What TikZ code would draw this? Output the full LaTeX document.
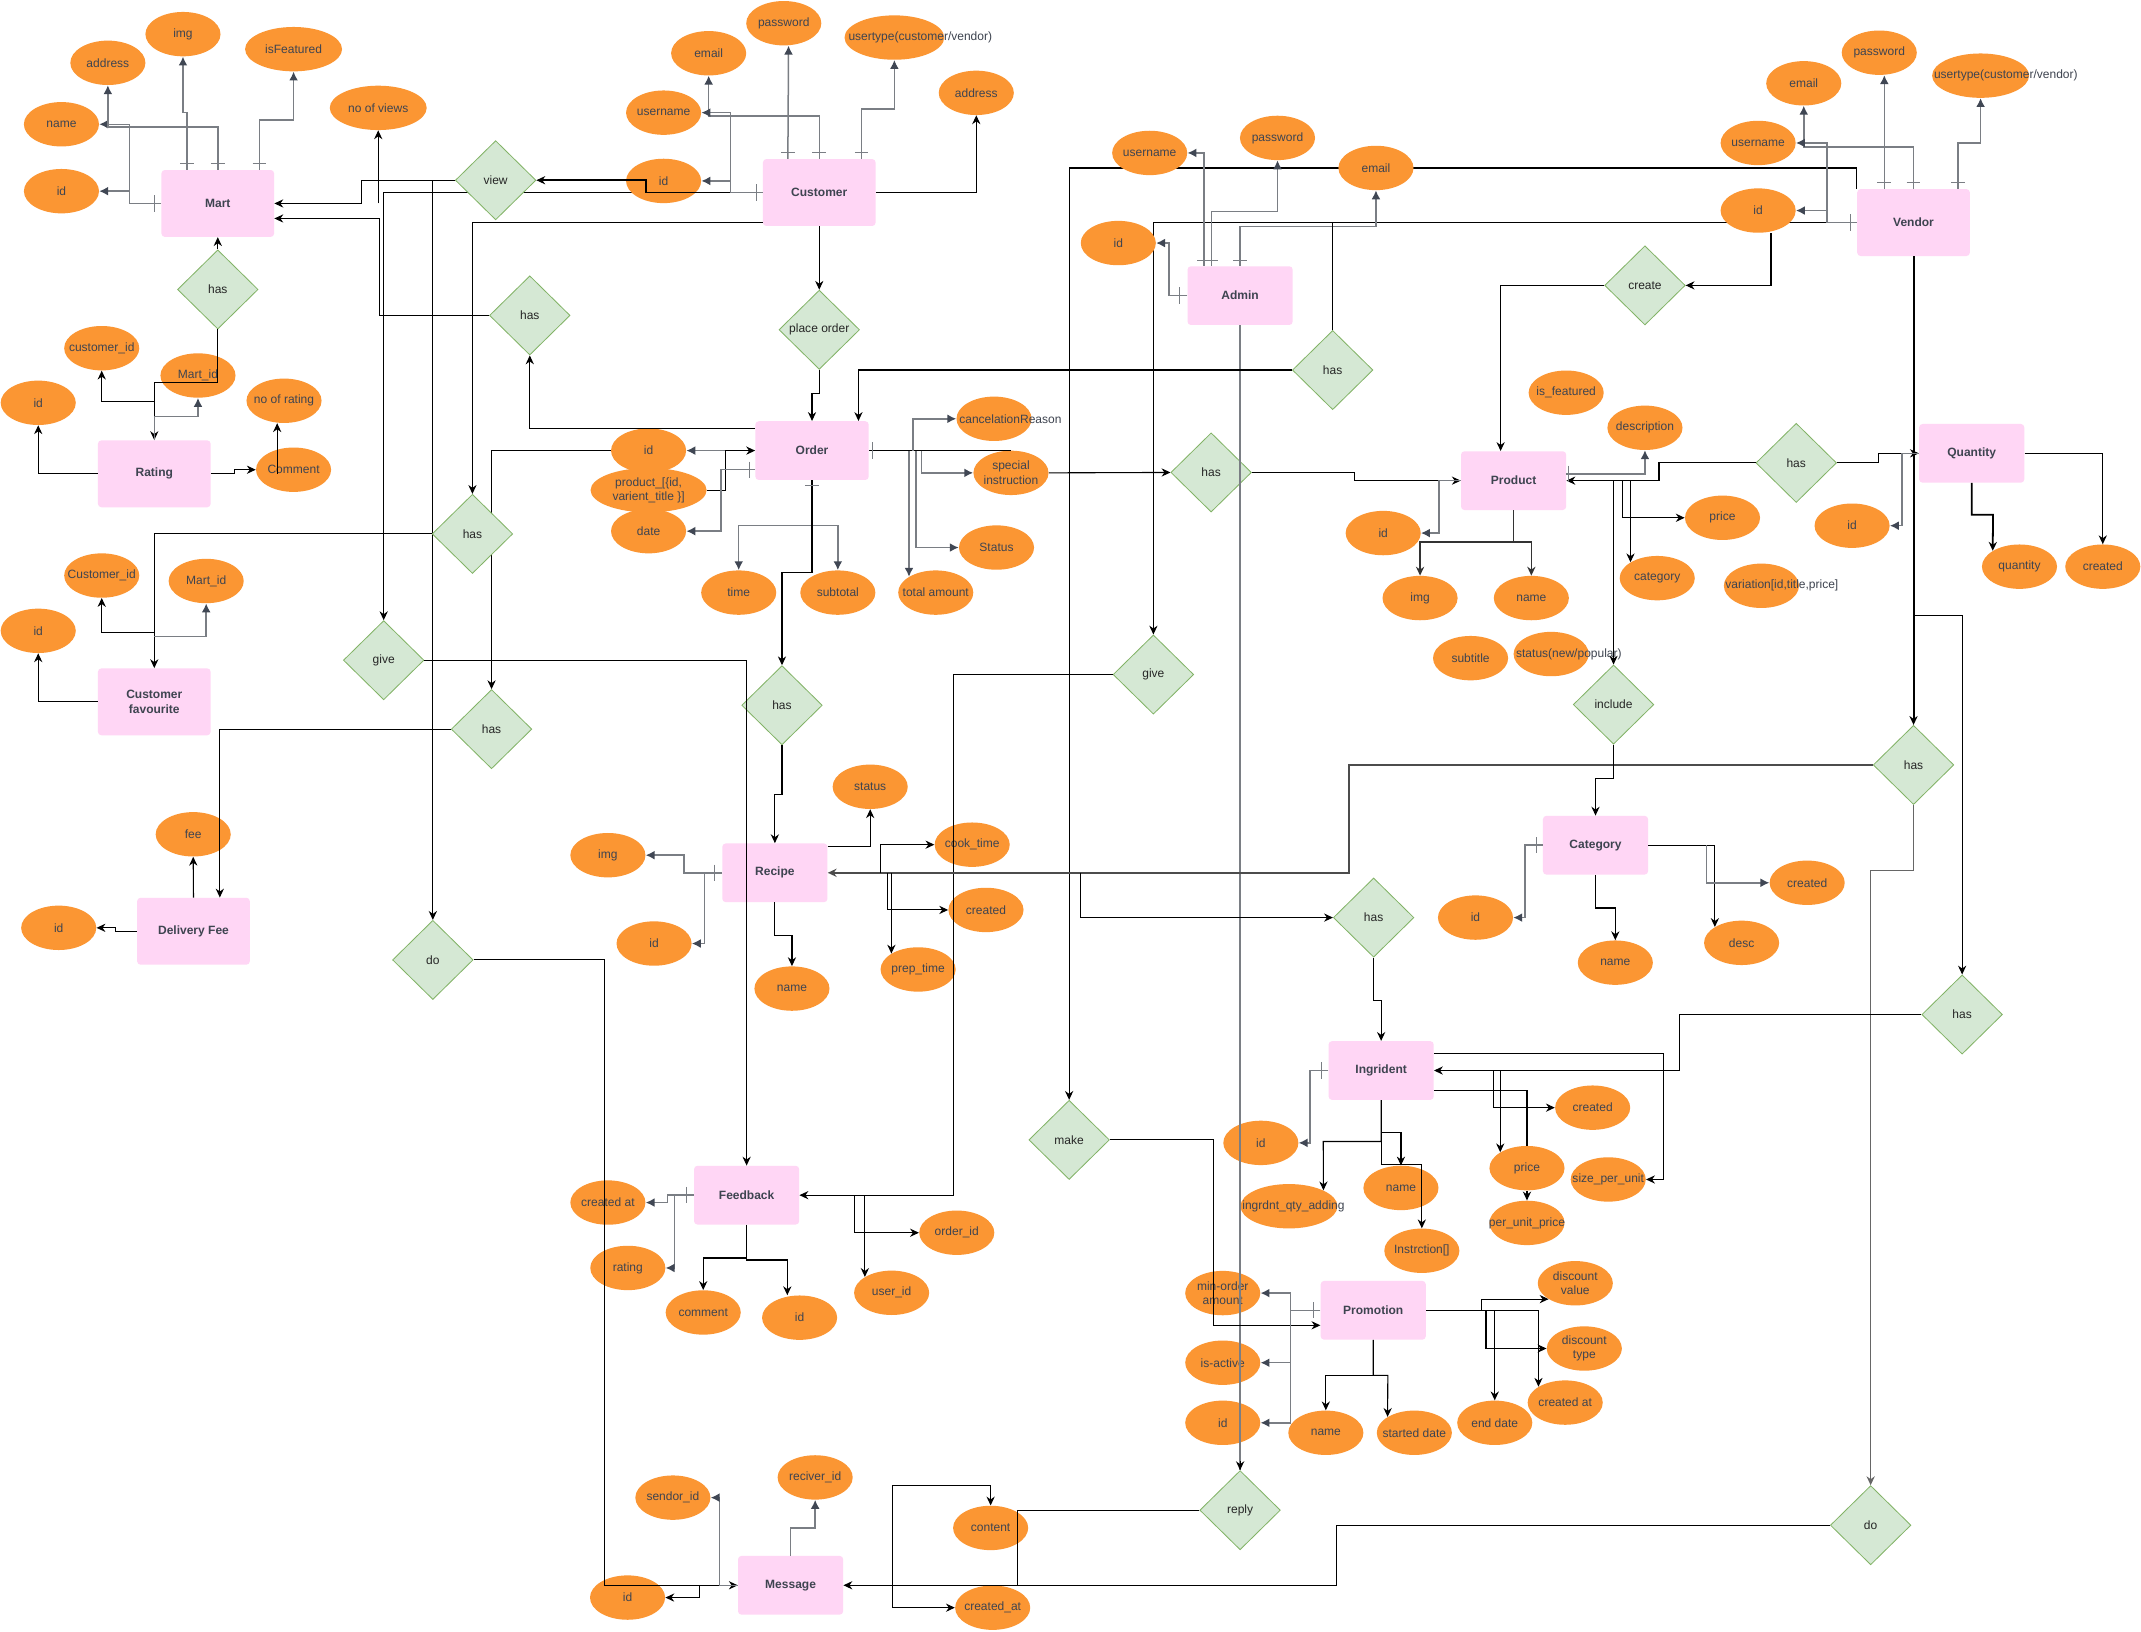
\documentclass[tikz,border=0pt]{standalone}
\usepackage{fontspec}
\setmainfont{Liberation Sans}
\usetikzlibrary{shapes.geometric, arrows.meta}

\definecolor{entpink}{RGB}{255,214,245}
\definecolor{attorange}{RGB}{251,150,51}
\definecolor{atttext}{RGB}{62,68,80}
\definecolor{relfill}{RGB}{213,232,212}
\definecolor{reldraw}{RGB}{130,179,102}
\definecolor{lngray}{RGB}{122,126,132}
\definecolor{tipslate}{RGB}{64,71,84}

\pgfdeclarelayer{background}
\pgfsetlayers{background,main}

\begin{document}
\begin{tikzpicture}[x=1pt, y=-1pt,
  entity/.style={rectangle, rounded corners=2.5pt, fill=entpink, minimum width=82.5pt, minimum height=49pt, inner sep=2pt, text=atttext, font=\fontsize{8.8}{10.5}\selectfont\bfseries, align=center},
  entsmall/.style={entity, minimum width=77pt, minimum height=43pt},
  attrib/.style={ellipse, fill=attorange, minimum width=55pt, minimum height=32.5pt, inner xsep=-14pt, inner ysep=-3pt, text=atttext, font=\fontsize{8.8}{10.5}\selectfont, align=center},
  overtext/.style={inner sep=0pt, text=atttext, font=\fontsize{8.8}{10.5}\selectfont},
  relation/.style={diamond, draw=reldraw, fill=relfill, line width=0.6pt, minimum width=59pt, minimum height=58pt, inner sep=0pt, text=black!85, font=\fontsize{8.8}{10.5}\selectfont},
  rl/.style={draw=black, line width=0.8pt, -{Stealth[length=6.5pt, width=6pt]}},
  rlp/.style={draw=black, line width=0.8pt},
  al/.style={draw=lngray, line width=1.1pt, -{Latex[length=6.5pt, width=6.5pt, color=tipslate]}},
  alp/.style={draw=lngray, line width=1.1pt},
  tk/.style={draw=lngray, line width=0.8pt}]

        \useasboundingbox (0,0) rectangle (1568,1194.5);
        \begin{pgfonlayer}{background}
            \fill[white] (0,0) rectangle (1568,1194.5);
        \end{pgfonlayer}

        % Mart
        \node[attrib] (maddr) at (79,46) {address};
        \node[attrib] (mimg) at (134,25) {img};
        \node[attrib, minimum width=71pt] (mfeat) at (215,36) {isFeatured};
        \node[attrib] (mname) at (45,91) {name};
        \node[attrib] (mid) at (45,140) {id};
        \node[attrib, minimum width=71pt] (mviews) at (277,79) {no of views};
        \node[entity] (mart) at (159.5,149) {Mart};
        \node[relation] (hasmr) at (159.5,212) {has};
        \node[attrib] (rcid) at (74.5,255) {customer\_id};
        \node[attrib] (rmid) at (145,275) {Mart\_id};
        \node[attrib] (rid) at (28,295) {id};
        \node[attrib] (rnor) at (208,293.5) {no of rating};
        \node[entity] (rating) at (113,347) {Rating};
        \node[attrib] (rcom) at (215,344) {Comment};
        \node[relation] (view) at (363,132) {view};
        \node[relation] (hasco) at (388,231) {has};
        \node[relation] (hascf) at (346,391) {has};
        \node[attrib] (fcid) at (74.5,421.5) {Customer\_id};
        \node[attrib] (fmid) at (151,425.5) {Mart\_id};
        \node[attrib] (fid) at (28,462) {id};
        \node[entity] (custfav) at (113,514) {Customer\\favourite};
        \node[relation] (give) at (281,483.5) {give};
        \node[relation] (hasdf) at (360,534) {has};
        \node[attrib] (dfee) at (141.5,611) {fee};
        \node[attrib] (dfid) at (43,679.5) {id};
        \node[entity] (delfee) at (141.7,682) {Delivery Fee};
        \node[relation] (do) at (317,703) {do};

        % Customer
        \node[attrib] (cpass) at (574,17) {password};
        \node[attrib] (cemail) at (519,39) {email};
        \node[attrib, minimum width=73pt] (ctype) at (655,27.5) {};
        \node[overtext] (ctypet) at (674,27.5) {usertype(customer/vendor)};
        \node[attrib] (caddr) at (715,68) {address};
        \node[attrib] (cuser) at (486,82.5) {username};
        \node[attrib] (cid) at (486,132.5) {id};
        \node[entity] (cust) at (600,141) {Customer};
        \node[relation] (porder) at (600,241.5) {place order};

        % Order
        \node[entsmall, minimum width=83pt] (order) at (594.7,330) {Order};
        \node[attrib] (oid) at (475,330) {id};
        \node[attrib, minimum width=85pt] (oprod) at (475,359) {product\_[\{id,\\varient\_title \}]};
        \node[attrib] (odate) at (475,389) {date};
        \node[attrib] (otime) at (541,434) {time};
        \node[attrib] (osub) at (613.6,434) {subtotal};
        \node[attrib] (ototal) at (685.3,434) {total amount};
        \node[attrib] (ostat) at (729.8,401) {Status};
        \node[attrib] (ocancel) at (728,306.7) {};
        \node[overtext] (ocancelt) at (740,306.7) {cancelationReason};
        \node[attrib] (ospec) at (740.4,346.3) {special\\instruction};

        % Admin
        \node[attrib] (auser) at (842,112) {username};
        \node[attrib] (apass) at (935.6,101) {password};
        \node[attrib] (aemail) at (1007.7,123) {email};
        \node[attrib] (aid) at (819,178) {id};
        \node[entsmall] (admin) at (908.2,216.5) {Admin};
        \node[relation] (hasao) at (976,271) {has};
        \node[relation] (hasop) at (887,346) {has};

        % Vendor
        \node[attrib] (vemail) at (1321,61) {email};
        \node[attrib] (vpass) at (1376.3,38.6) {password};
        \node[attrib, minimum width=71pt] (vtype) at (1450.5,55.4) {};
        \node[overtext] (vtypet) at (1469,55.4) {usertype(customer/vendor)};
        \node[attrib] (vuser) at (1287.6,104.7) {username};
        \node[attrib] (vid) at (1287.6,154.2) {id};
        \node[entity] (vendor) at (1401.4,163) {Vendor};
        \node[relation] (create) at (1204.7,209) {create};

        % Product, Quantity
        \node[attrib] (pfeat) at (1147,287.6) {is\_featured};
        \node[attrib] (pdesc) at (1204.7,313.3) {description};
        \node[entsmall] (prod) at (1108.5,352) {Product};
        \node[attrib] (pprice) at (1261.5,379.2) {price};
        \node[attrib] (pid) at (1013,390.4) {id};
        \node[attrib] (pimg) at (1040,438) {img};
        \node[attrib] (pname) at (1121.5,438) {name};
        \node[attrib] (pcat) at (1213.7,423.4) {category};
        \node[attrib] (pvar) at (1290,429) {};
        \node[overtext] (pvart) at (1305,429) {variation[id,title,price]};
        \node[attrib] (psub) at (1077,482) {subtitle};
        \node[attrib] (pstat) at (1136,479) {};
        \node[overtext] (pstatt) at (1149,479) {status(new/popular)};
        \node[relation] (incl) at (1181.7,516) {include};
        \node[relation] (haspq) at (1315.5,339) {has};
        \node[entsmall] (qty) at (1444,332) {Quantity};
        \node[attrib] (qid) at (1356.4,385) {id};
        \node[attrib] (qqty) at (1479,415) {quantity};
        \node[attrib] (qcre) at (1540,415) {created};

        % Category
        \node[entsmall] (cat) at (1168.5,619) {Category};
        \node[attrib] (catid) at (1080.6,672) {id};
        \node[attrib] (catname) at (1183,705) {name};
        \node[attrib] (catdesc) at (1275.5,690.5) {desc};
        \node[attrib] (catcre) at (1323.5,646.5) {created};
        \node[relation] (hasvc) at (1401.4,560.2) {has};
        \node[relation] (hasvi) at (1437,743) {has};

        % Recipe
        \node[relation] (hasor) at (572.7,516.5) {has};
        \node[entsmall] (recipe) at (567.5,639.2) {Recipe};
        \node[attrib] (rstat) at (637.3,576.2) {status};
        \node[attrib] (rimg) at (445.2,626.3) {img};
        \node[attrib] (rcook) at (712,618.6) {cook\_time};
        \node[attrib] (rcre) at (722.1,666.4) {created};
        \node[attrib] (rprep) at (672.4,710) {prep\_time};
        \node[attrib] (rrid) at (479,691) {id};
        \node[attrib] (rname) at (580,724) {name};
        \node[relation] (hasri) at (1006,672) {has};
        \node[relation] (give2) at (844.7,494) {give};

        % Ingrident
        \node[entsmall] (ingr) at (1011.5,784) {Ingrident};
        \node[attrib] (iid) at (923.4,837) {id};
        \node[attrib, minimum width=71pt] (iqty) at (944,883.4) {};
        \node[overtext] (iqtyt) at (947.3,883.4) {ingrdnt\_qty\_adding};
        \node[attrib] (iname) at (1026,870) {name};
        \node[attrib] (iinst) at (1041.3,916) {Instrction[]};
        \node[attrib] (icre) at (1166.4,811.2) {created};
        \node[attrib] (iprice) at (1118.3,855.5) {price};
        \node[attrib] (iper) at (1118.3,895.6) {per\_unit\_price};
        \node[attrib] (isize) at (1177.8,863.8) {size\_per\_unit};

        % Promotion
        \node[entsmall] (promo) at (1005.7,959.6) {Promotion};
        \node[attrib] (pmin) at (895.5,947) {min-order\\amount};
        \node[attrib] (pact) at (895.5,998) {is-active};
        \node[attrib] (prid) at (895.5,1042) {id};
        \node[attrib] (prname) at (971,1049.3) {name};
        \node[attrib] (pstart) at (1035.8,1049.3) {started date};
        \node[attrib] (pend) at (1094.7,1042) {end date};
        \node[attrib] (pcre) at (1146.3,1027.2) {created at};
        \node[attrib] (pdtype) at (1160.3,987.6) {discount\\type};
        \node[attrib] (pdval) at (1153.7,939.8) {discount\\value};
        \node[relation] (make) at (783,834.8) {make};
        \node[relation] (reply) at (908.2,1106) {reply};
        \node[relation] (do2) at (1370,1117) {do};

        % Feedback, Message
        \node[entsmall] (fback) at (546.8,875.3) {Feedback};
        \node[attrib] (fcre) at (445.2,880.7) {created at};
        \node[attrib] (frat) at (459.8,928.6) {rating};
        \node[attrib] (fcom) at (515,961.2) {comment};
        \node[attrib] (ffid) at (585.6,965) {id};
        \node[attrib] (fuser) at (653,946.8) {user\_id};
        \node[attrib] (forder) at (700.7,902.8) {order\_id};
        \node[entsmall] (msg) at (579,1161) {Message};
        \node[attrib] (msend) at (492.8,1096.8) {sendor\_id};
        \node[attrib] (mrec) at (597,1082) {reciver\_id};
        \node[attrib] (mmid) at (459.6,1170) {id};
        \node[attrib] (mcont) at (725.5,1119) {content};
        \node[attrib] (mcre) at (727,1177.4) {created\_at};

        % lines that run behind the shapes
        \begin{pgfonlayer}{background}
            \draw[rl] (cust.west) -| (give.north);
            \draw[rl] (317,132) -- (do.north);
            \draw[rl] (oid.west) -| (hasdf.north);
            \draw[rl] (vendor.west) -| (give2.north);
            \draw[rl] (vendor.north west) |- (783,123) -- (make.north);
        \end{pgfonlayer}

        % Mart links
        \draw[al] (mart.west) -| (95,91) -- (mname.east);
        \draw[al] (95,149) |- (mid.east);
        \draw[al] (mart.north) |- (79,93) -- (maddr.south);
        \draw[al] ([xshift=-22.5pt]mart.north) -- ++(0,-42) -| (mimg.south);
        \draw[al] ([xshift=30.5pt]mart.north) |- (215,88) -- (mfeat.south);
        \draw[rl] (view.west) -- (265,132) |- (mart.east);
        \draw[rl] (mviews.south |- mart.east) -- (mviews.south);
        \draw[rl] (hasco.west) -| (278,160) -- ([yshift=-11pt]mart.east);
        \draw[rl] ([yshift=16pt]order.west) -| (hasco.south);
        \draw[rl] (hasmr.north) -- (mart.south);
        \draw[rl] (hasmr.south) |- (113,280) -- (rating.north);
        \draw[rl] (rating.north) |- (74.5,294) -- (rcid.south);
        \draw[al] (rating.north) |- (145,305) -- (rmid.south);
        \draw[rl] (rating.west) -| (rid.south);
        \draw[rl] (rating.east) -- (172,347) |- (rcom.west);
        \draw[rl] (203,347) -- ([xshift=-5pt]rnor.south);

        % Customer favourite, Delivery Fee
        \draw[rl] ([yshift=-22pt]cust.west) -| (hascf.north);
        \draw[rl] (hascf.west) -| (custfav.north);
        \draw[rl] (113,463) -| (fcid.south);
        \draw[al] (113,466) -| (fmid.south);
        \draw[rl] (custfav.west) -| (fid.south);
        \draw[rl] (hasdf.west) -| ([xshift=19.3pt]delfee.north);
        \draw[rl] (delfee.north) -- (dfee.south);
        \draw[rl] (delfee.west) -| (84.5,679.5) -- (dfid.east);

        % Customer links
        \draw[rl, line width=1.3pt] (cust.west) -| (473,132) -- (view.east);
        \draw[al] ([xshift=-23pt]cust.north) -- ([xshift=3.5pt]cpass.south);
        \draw[al] (cust.north) |- (519,85) -- (cemail.south);
        \draw[al] ([xshift=31pt]cust.north) |- (655,80) -- (ctype.south);
        \draw[al] (cust.west) -| (535,82.5) -- (cuser.east);
        \draw[al] (535,141) |- (cid.east);
        \draw[rl] (cust.east) -| (caddr.south);
        \draw[rl] (cust.south) -- (porder.north);
        \draw[rl] (porder.south) |- (594.7,288) -- (order.north);

        % Order links
        \draw[rl] (oprod.east) -| (531,330) -- (order.west);
        \draw[al] (531,330) -- (oid.east);
        \draw[al] ([yshift=-14pt]order.west) -| (528,389) -- (odate.east);
        \draw[al] (order.south) |- (541,385) -- (otime.north);
        \draw[al] (order.south) |- (613.6,385) -- (osub.north);
        \draw[rl] (order.south) |- (572.7,419) -- (hasor.north);
        \draw[rl] (hasor.south) |- (567.5,582) -- (recipe.north);
        \draw[rlp] (order.east) -- (order.east -| ospec.north);
        \draw[al] (668.5,330) |- (ocancel.west);
        \draw[al] (675,330) |- (ospec.west);
        \draw[al] (671,330) |- (ostat.west);
        \draw[al] (ototal.north west |- order.east) -- (ototal.north west);
        \draw[rl] (ospec.east) -- (hasop.west);

        % Admin links
        \draw[al] ([xshift=-26.4pt]admin.north) |- (auser.east);
        \draw[al] ([xshift=-21pt]admin.north) |- (935.6,155) -- (apass.south);
        \draw[al] (admin.north) |- (1007.7,166) -- (aemail.south);
        \draw[al] (admin.west) -| (856,178) -- (aid.east);
        \draw[alp] (admin.south) -- (reply.north);
        \draw[rl] (reply.north |- 0,1070) -- (reply.north);
        \draw[rl] (hasao.west) -| ([xshift=34pt]order.north);
        \draw[rlp] (hasao.north) -- (hasao.north |- vendor.west);
        \draw[rl] (give2.west) -| (698,875.3) -- (fback.east);
        \draw[rl] (hasop.east) -| (992,352) -- (prod.west);

        % Vendor links
        \draw[al] ([xshift=-21.4pt]vendor.north) -- ([xshift=3.7pt]vpass.south);
        \draw[al] (vendor.north) |- (1321,107.7) -- (vemail.south);
        \draw[al] ([xshift=32.6pt]vendor.north) |- (1450.5,104.7) -- (vtype.south);
        \draw[al] (vendor.west) -| (1338,104.7) -- (vuser.east);
        \draw[al] (1338,163) |- (vid.east);
        \draw[rl] ([xshift=9.4pt]vid.south) |- (create.east);
        \draw[rl] (create.west) -| ([xshift=-9.5pt]prod.north);
        \draw[rl, line width=1.4pt] (vendor.south) -- (hasvc.north);
        \draw[rl] (1401.4,451) -| (hasvi.north);
        \draw[rl, draw=black!70, line width=1.3pt] (hasvc.west) -| (988,639.2) -- (recipe.east);
        \draw[rl, draw=black!60] (hasvc.south) |- (1370,637.6) -- (do2.north);
        \draw[rl] (do2.west) -| (979,1161) -- (msg.east);
        \draw[rlp] (reply.west) -| (745,1161);
        \draw[rl] (hasvi.west) -| (1230,784) -- (ingr.east);

        % Product, Quantity links
        \draw[al] (prod.west) -| (1054,390.4) -- (pid.east);
        \draw[rl, draw=black!80, line width=1.1pt] (prod.south) |- (1040,397) -- (pimg.north);
        \draw[rl, draw=black!80, line width=1.1pt] (prod.south) |- (1121.5,397) -- (pname.north);
        \draw[al] ([yshift=5pt]prod.east) -| (pdesc.south);
        \draw[rl] (incl.north |- prod.east) -- (incl.north);
        \draw[rl] (1188,352) |- (pprice.west);
        \draw[rl] (pcat.north west |- prod.east) -- (pcat.north west);
        \draw[rl] (haspq.west) -| (1215,352) -- (prod.east);
        \draw[rl] (haspq.east) -| (1376,332) -- (qty.west);
        \draw[al] (qty.west) -| (1393,385) -- (qid.east);
        \draw[rl, line width=1.3pt] (qty.south) |- (1459.6,377) -- (qqty.north west);
        \draw[rl] (qty.east) -| (qcre.north);

        % Category links
        \draw[rl] (incl.south) |- (1168.5,570) -- (cat.north);
        \draw[al] (cat.west) -| (1117,672) -- (catid.east);
        \draw[rl] (cat.south) |- (1183,665) -- (catname.north);
        \draw[rl] (cat.east) -| (catdesc.north west);
        \draw[al] (1249.6,619) |- (catcre.west);

        % Recipe links
        \draw[rl] ([yshift=19pt]recipe.east) -| (rstat.south);
        \draw[rl] (645,639.2) |- (rcook.west);
        \draw[rl] (650,639.2) |- (rcre.west);
        \draw[rl] (rprep.north west |- recipe.east) -- (rprep.north west);
        \draw[rl] (791,639.2) |- (hasri.west);
        \draw[al] (recipe.west) -| (501,626.3) -- (rimg.east);
        \draw[al] (516,639.2) |- (rrid.east);
        \draw[rl] (recipe.south) |- (580,685) -- (rname.north);

        % Ingrident links
        \draw[rl] (hasri.south) |- (1011.5,732.6) -- (ingr.north);
        \draw[al] (ingr.west) -| (959.4,837) -- (iid.east);
        \draw[rl] (ingr.south) |- (969.1,836) -- (iqty.north east);
        \draw[rl] (ingr.south) |- (1026,829.6) -- (iname.north);
        \draw[rl] (ingr.south) |- (1041.3,852.5) -- (iinst.north);
        \draw[rl] (1094,784) |- (icre.west);
        \draw[rl] (iprice.north west |- ingr.east) -- (iprice.north west);
        \draw[rlp] ([yshift=-14.6pt]ingr.east) -| (iprice.north);
        \draw[rl] (iprice.south) -- (iper.north);
        \draw[rl] ([yshift=12.5pt]ingr.east) -| (1218,863.8) -- (isize.east);

        % Promotion links
        \draw[rl] (make.east) -| (889,970.6) -- ([yshift=-11pt]promo.west);
        \draw[al] (promo.west) -| (945,947) -- (pmin.east);
        \draw[al] (945,959.6) |- (pact.east);
        \draw[al] (945,959.6) |- (prid.east);
        \draw[rl] (promo.south) |- (971,1007.3) -- (prname.north);
        \draw[rl] (promo.south) |- (1016.4,1007.3) -- (pstart.north west);
        \draw[rl] (promo.east) -| (pcre.north west);
        \draw[rl] (1085.3,959.6) |- (pdval.south west);
        \draw[rl] (1088.3,959.6) |- (pdtype.west);
        \draw[rl] (pend.north |- promo.east) -- (pend.north);

        % Feedback, Message links
        \draw[rl] (give.east) -| (fback.north);
        \draw[al] (fback.west) -| (489,880.7) -- (fcre.east);
        \draw[al] (494,875.3) |- (frat.east);
        \draw[rl] (fback.south) |- (515,921.3) -- (fcom.north);
        \draw[rl] (fback.south) |- (576.6,922.8) -- ([xshift=-9pt]ffid.north);
        \draw[rl] (625.8,875.3) |- (forder.west);
        \draw[rl] (fuser.north west |- fback.east) -- (fuser.north west);
        \draw[rl] (do.east) -| (443,1161) -- (msg.west);
        \draw[al] (msg.west) -| (527,1096.8) -- (msend.east);
        \draw[rl] (512,1161) |- (mmid.east);
        \draw[al] (msg.north) |- (597,1119) -- (mrec.south);
        \draw[rl] (653.6,1161) |- (725.5,1088) -- (mcont.north);
        \draw[rl] (653.6,1161) |- (mcre.west);

        % one-ticks
        \foreach \x/\y in {137/119.5, 159.5/119.5, 190/119.5, 577/111.5, 600/111.5, 631/111.5,
                           881.8/190.5, 887.2/190.5, 908.2/190.5, 1380/133.5, 1401.4/133.5, 1434/133.5, 594.7/355.5}
            \draw[tk] (\x-5,\y) -- (\x+5,\y);
        \foreach \x/\y in {113/149, 554/141, 549/344, 639/330, 864/216.5, 1355/163, 1149/347,
                           1125/619, 523/639.2, 968/784, 962/959.6, 503/875.3}
            \draw[tk] (\x,\y-6) -- (\x,\y+6);
\end{tikzpicture}
\end{document}
